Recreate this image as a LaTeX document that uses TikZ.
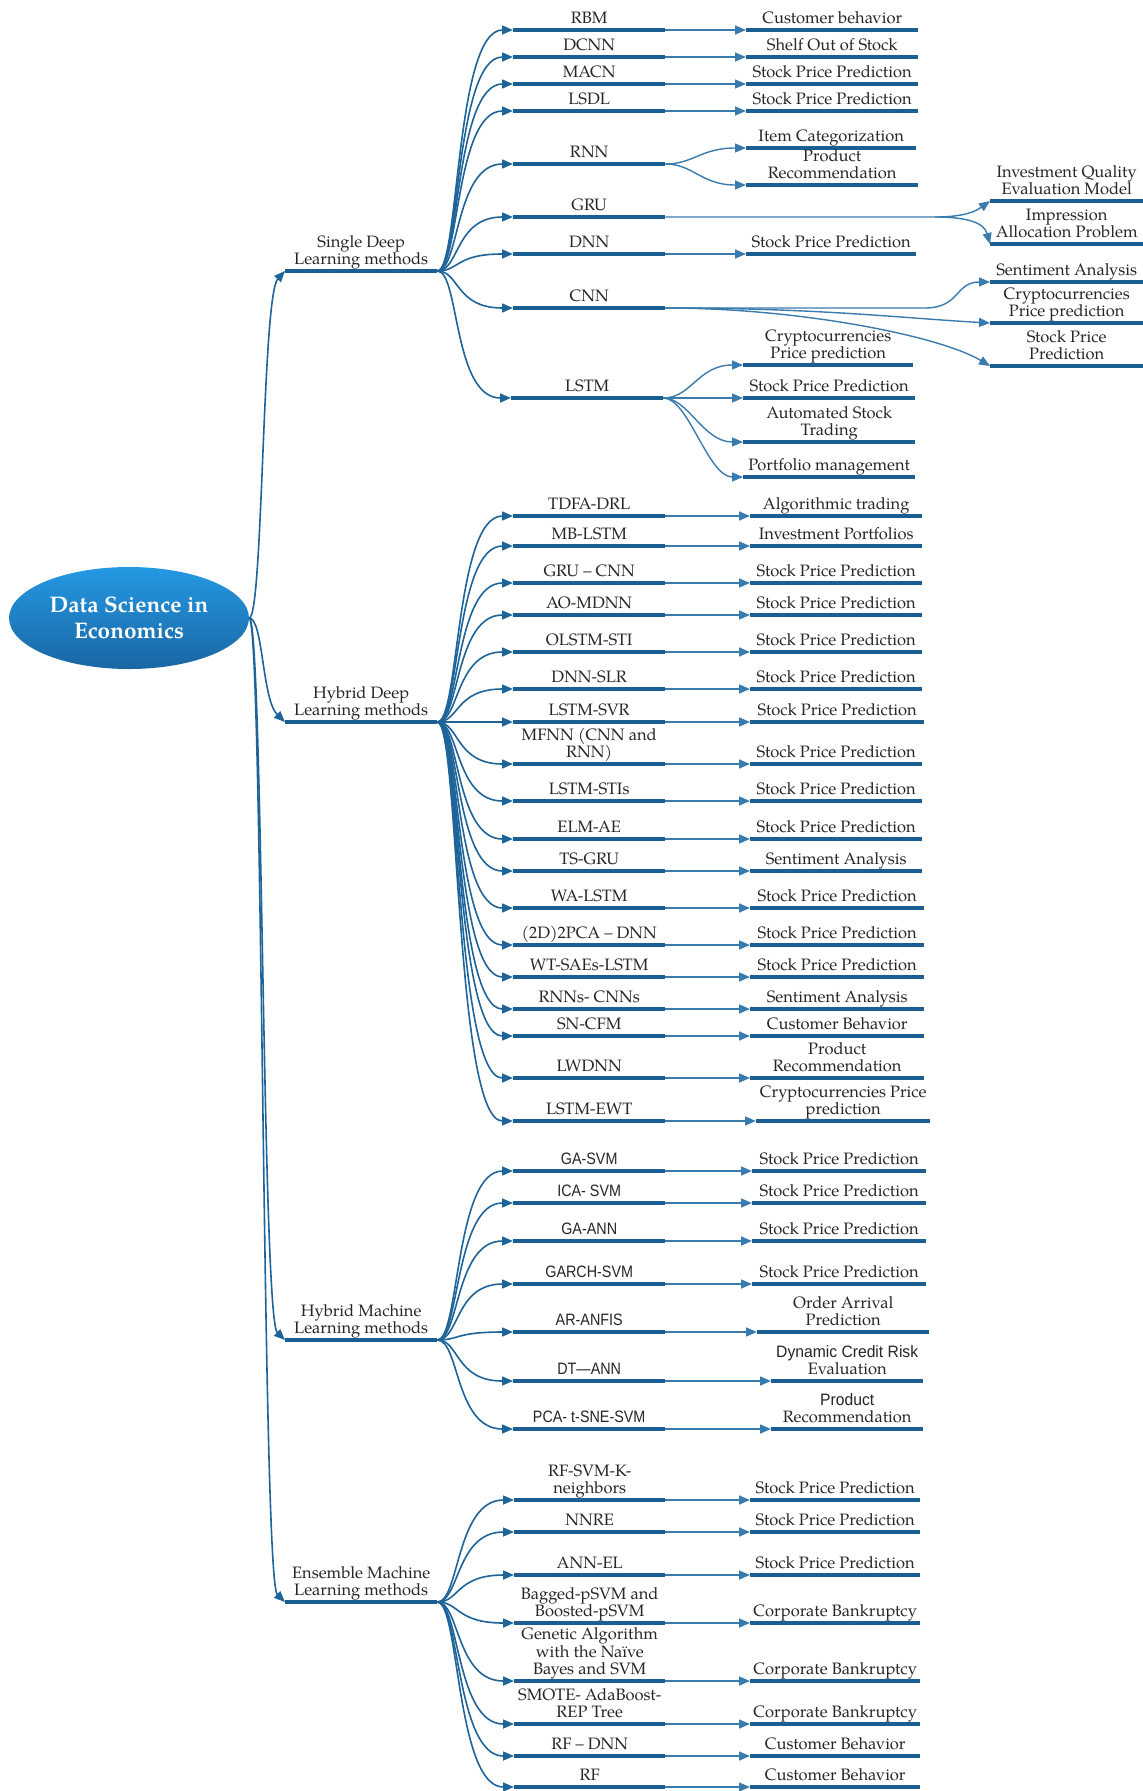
\documentclass[tikz,border=0pt]{standalone}
\usepackage{fontspec}
\setmainfont{texgyrepagella}[Extension=.otf,UprightFont=*-regular,BoldFont=*-bold,ItalicFont=*-italic,BoldItalicFont=*-bolditalic]
\newfontfamily\nsans{Liberation Sans}[FakeStretch=0.95]
\newfontfamily\nsansm{Liberation Sans}[FakeStretch=0.87]
\usetikzlibrary{arrows.meta,shapes.geometric}
\definecolor{barblue}{HTML}{1B5E91}
\definecolor{lineblue}{HTML}{1E6499}
\definecolor{leafline}{HTML}{3A7BAE}
\definecolor{txt}{HTML}{262626}
\definecolor{roottop}{HTML}{2499E3}
\definecolor{rootbot}{HTML}{1A66A3}
\newcommand\dstrut{\rule[-4.5pt]{0pt}{4.5pt}}
\newcommand\BB[5]{\node[bar,minimum width=#4pt,label={[lbl]above:{#5\dstrut}}] (#1) at (#2,#3) {};}
\tikzset{
 bar/.style={rectangle,fill=barblue,inner sep=0pt,minimum height=4.8pt,anchor=west},
 lbl/.style={inner sep=0pt,align=center,font=\fontsize{16.5}{17.5}\selectfont,text=txt,label distance=-1pt},
 conn/.style={draw=lineblue,line width=1.6pt,-{Triangle[length=11pt,width=9pt]}},
 lconn/.style={draw=leafline,line width=1.4pt,-{Triangle[length=11pt,width=9pt]}},
}
\begin{document}
\begin{tikzpicture}[x=1pt,y=-1pt]
\fill[white] (0,0) rectangle (1143,1791);
\useasboundingbox (0,0) rectangle (1143,1791);

% root
\node[ellipse,minimum width=240pt,minimum height=102pt,top color=roottop,bottom color=rootbot,text=white,font=\fontsize{22.5}{25.5}\selectfont\bfseries,align=center,inner sep=0pt] (root) at (129,618) {Data Science in\\Economics};

% categories
\BB{sd}{285}{271}{152}{Single Deep\\Learning methods}
\BB{hd}{285}{722}{152}{Hybrid Deep\\Learning methods}
\BB{hm}{285}{1340}{152}{Hybrid Machine\\Learning methods}
\BB{em}{285}{1602}{152}{Ensemble Machine\\Learning methods}

\draw[conn] (root.east) .. controls +(14,0) and (262,296) .. (sd.west);
\draw[conn] (root.east) .. controls +(14,0) and (262,700) .. (hd.west);
\draw[conn] (root.east) .. controls +(14,0) and (262,1318) .. (hm.west);
\draw[conn] (root.east) .. controls +(14,0) and (262,1580) .. (em.west);

% ---------- Single deep ----------
\BB{rbm}{513}{30}{152}{RBM}
\BB{dcnn}{513}{57}{152}{DCNN}
\BB{macn}{513}{84}{152}{MACN}
\BB{lsdl}{513}{111}{152}{LSDL}
\BB{rnn}{513}{164}{152}{RNN}
\BB{gru}{513}{217}{152}{GRU}
\BB{dnn}{513}{254}{152}{DNN}
\BB{cnn}{513}{308}{152}{CNN}
\BB{lstm}{511}{398}{152}{LSTM}

\BB{la}{746}{30}{172}{Customer behavior}
\BB{lb}{746}{57}{172}{Shelf Out of Stock}
\BB{lc}{746}{84}{172}{Stock Price Prediction}
\BB{ld}{746}{111}{172}{Stock Price Prediction}
\BB{le}{746}{148}{170}{Item Categorization}
\BB{lf}{746}{185}{172}{Product\\Recommendation}
\BB{ga}{990}{201}{153}{Investment Quality\\Evaluation Model}
\BB{gb}{990}{244}{153}{Impression\\Allocation Problem}
\BB{lg}{746}{254}{170}{Stock Price Prediction}
\BB{ca}{990}{282}{153}{Sentiment Analysis}
\BB{cb}{990}{323}{153}{Cryptocurrencies\\Price prediction}
\BB{cc}{990}{366}{153}{Stock Price\\Prediction}
\BB{sa}{743}{365}{170}{Cryptocurrencies\\Price prediction}
\BB{sb}{743}{398}{172}{Stock Price Prediction}
\BB{sc}{743}{442}{172}{Automated Stock\\Trading}
\BB{se}{743}{477}{172}{Portfolio management}

\foreach \m in {rbm,dcnn,macn,lsdl,rnn,gru,dnn,cnn,lstm}
  \draw[conn] (sd.east) .. controls +(22,0) and +(-58,0) .. (\m.west);
\foreach \a/\b in {rbm/la,dcnn/lb,macn/lc,lsdl/ld,dnn/lg,lstm/sb}
  \draw[lconn] (\a.east) -- (\b.west);
\draw[lconn] (rnn.east) .. controls +(28,0) and +(-45,0) .. (le.west);
\draw[lconn] (rnn.east) .. controls +(28,0) and +(-45,0) .. (lf.west);
\coordinate (gruk) at (935,217);
\draw[lconn] (gru.east) -- (gruk) .. controls (965,217) and (976,211) .. (ga.west);
\draw[lconn] (gruk) .. controls (965,217) and (984,222) .. (gb.west);
\coordinate (cnnk) at (925,308);
\draw[lconn] (cnn.east) -- (cnnk) .. controls (960,308) and (955,282) .. (ca.west);
\draw[lconn] (cnn.east) .. controls (820,308) and (900,318) .. (cb.west);
\draw[lconn] (cnn.east) .. controls (800,308) and (940,336) .. (cc.west);
\draw[lconn] (lstm.east) .. controls +(28,0) and +(-45,0) .. (sa.west);
\draw[lconn] (lstm.east) .. controls +(25,0) and +(-40,0) .. (sc.west);
\draw[lconn] (lstm.east) .. controls +(25,0) and +(-35,0) .. (se.west);

% ---------- Hybrid deep ----------
\BB{h1}{513}{516}{152}{TDFA-DRL}
\BB{h2}{513}{546}{152}{MB-LSTM}
\BB{h3}{513}{583}{152}{GRU – CNN}
\BB{h4}{513}{615}{152}{AO-MDNN}
\BB{h5}{513}{652}{152}{OLSTM-STI}
\BB{h6}{513}{689}{152}{DNN-SLR}
\BB{h7}{513}{722}{152}{LSTM-SVR}
\BB{h8}{513}{764}{152}{MFNN (CNN and\\RNN)}
\BB{h9}{513}{801}{152}{LSTM-STIs}
\BB{h10}{513}{839}{152}{ELM-AE}
\BB{h11}{513}{871}{152}{TS-GRU}
\BB{h12}{513}{908}{152}{WA-LSTM}
\BB{h13}{513}{945}{152}{(2D)2PCA – DNN}
\BB{h14}{513}{977}{152}{WT-SAEs-LSTM}
\BB{h15}{513}{1009}{152}{RNNs- CNNs}
\BB{h16}{513}{1036}{152}{SN-CFM}
\BB{h17}{513}{1078}{152}{LWDNN}
\BB{h18}{513}{1121}{152}{LSTM-EWT}

\BB{k1}{750}{516}{172}{Algorithmic trading}
\BB{k2}{750}{546}{172}{Investment Portfolios}
\BB{k3}{750}{583}{172}{Stock Price Prediction}
\BB{k4}{750}{615}{172}{Stock Price Prediction}
\BB{k5}{750}{652}{172}{Stock Price Prediction}
\BB{k6}{750}{689}{172}{Stock Price Prediction}
\BB{k7}{750}{722}{174}{Stock Price Prediction}
\BB{k8}{750}{764}{172}{Stock Price Prediction}
\BB{k9}{750}{801}{172}{Stock Price Prediction}
\BB{k10}{750}{839}{172}{Stock Price Prediction}
\BB{k11}{750}{871}{172}{Sentiment Analysis}
\BB{k12}{750}{908}{174}{Stock Price Prediction}
\BB{k13}{750}{945}{174}{Stock Price Prediction}
\BB{k14}{750}{977}{174}{Stock Price Prediction}
\BB{k15}{750}{1009}{174}{Sentiment Analysis}
\BB{k16}{750}{1036}{174}{Customer Behavior}
\BB{k17}{750}{1078}{174}{Product\\Recommendation}
\BB{k18}{756}{1121}{174}{Cryptocurrencies Price\\prediction}

\foreach \i in {1,...,18}{
  \draw[conn] (hd.east) .. controls +(22,0) and +(-58,0) .. (h\i.west);
  \draw[lconn] (h\i.east) -- (k\i.west);
}

% ---------- Hybrid machine ----------
\BB{m1}{513}{1171}{152}{\nsansm GA-SVM}
\BB{m2}{513}{1203}{152}{\nsansm ICA- SVM}
\BB{m3}{513}{1241}{152}{\nsansm GA-ANN}
\BB{m4}{513}{1284}{152}{\nsansm GARCH-SVM}
\BB{m5}{513}{1332}{152}{\nsansm AR-ANFIS}
\BB{m6}{513}{1381}{152}{\nsansm DT—ANN}
\BB{m7}{513}{1429}{152}{\nsansm PCA- t-SNE-SVM}

\BB{n1}{752}{1171}{174}{Stock Price Prediction}
\BB{n2}{752}{1203}{174}{Stock Price Prediction}
\BB{n3}{752}{1241}{174}{Stock Price Prediction}
\BB{n4}{752}{1284}{174}{Stock Price Prediction}
\BB{n5}{757}{1332}{172}{Order Arrival\\Prediction}
\BB{n6}{771}{1381}{152}{\nsans Dynamic Credit Risk\\Evaluation}
\BB{n7}{771}{1429}{152}{\nsans Product\\Recommendation}

\foreach \i in {1,...,7}{
  \draw[conn] (hm.east) .. controls +(22,0) and +(-58,0) .. (m\i.west);
  \draw[lconn] (m\i.east) -- (n\i.west);
}

% ---------- Ensemble ----------
\BB{e1}{514}{1500}{151}{RF-SVM-K-\\neighbors}
\BB{e2}{514}{1532}{151}{NNRE}
\BB{e3}{514}{1575}{151}{ANN-EL}
\BB{e4}{514}{1623}{151}{Bagged-pSVM and\\Boosted-pSVM}
\BB{e5}{514}{1681}{151}{Genetic Algorithm\\with the Naïve\\Bayes and SVM}
\BB{e6}{514}{1724}{151}{SMOTE- AdaBoost-\\REP Tree}
\BB{e7}{514}{1756}{151}{RF – DNN}
\BB{e8}{514}{1787}{151}{RF}

\BB{f1}{750}{1500}{170}{Stock Price Prediction}
\BB{f2}{750}{1532}{170}{Stock Price Prediction}
\BB{f3}{750}{1575}{170}{Stock Price Prediction}
\BB{f4}{750}{1623}{170}{Corporate Bankruptcy}
\BB{f5}{750}{1681}{170}{Corporate Bankruptcy}
\BB{f6}{750}{1724}{170}{Corporate Bankruptcy}
\BB{f7}{750}{1756}{170}{Customer Behavior}
\BB{f8}{750}{1787}{170}{Customer Behavior}

\foreach \i in {1,...,8}{
  \draw[conn] (em.east) .. controls +(22,0) and +(-58,0) .. (e\i.west);
  \draw[lconn] (e\i.east) -- (f\i.west);
}
\end{tikzpicture}
\end{document}
